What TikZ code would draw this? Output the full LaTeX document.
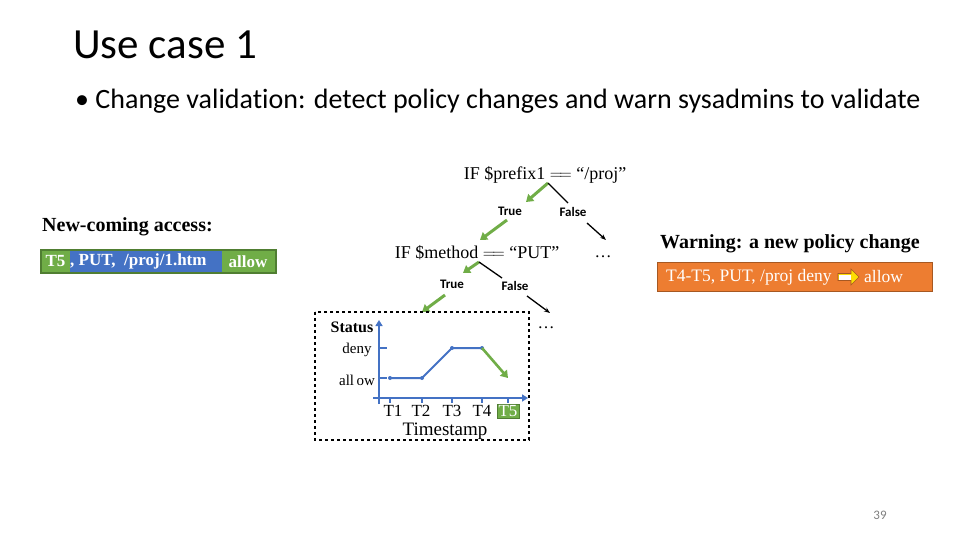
\documentclass[tikz,border=0pt]{standalone}
\usepackage{fontspec}
\setmainfont{Liberation Serif}
\newfontfamily\calfont[Ligatures=NoCommon]{Carlito}
\usetikzlibrary{arrows.meta}
\definecolor{gr}{HTML}{70AD47}
\definecolor{bl}{HTML}{4472C4}
\definecolor{org}{HTML}{ED7D31}
\definecolor{dgr}{HTML}{507E32}
\tikzset{garr/.style={gr,line width=3pt,-{Triangle[length=7pt,width=9pt]}},
barr/.style={black,line width=1.3pt,-{Stealth[length=6pt]}},
tf/.style={font=\calfont\bfseries\fontsize{13}{15}\selectfont,inner sep=0},
cond/.style={font=\fontsize{18}{21}\selectfont,inner sep=0},
ax/.style={bl,line width=2pt},
lbl/.style={font=\fontsize{17}{19}\selectfont,inner sep=0}}
\begin{document}
\begin{tikzpicture}[x=1pt,y=-1pt]
\useasboundingbox (0,0) rectangle (960,540);
\node[anchor=west,font=\calfont\fontsize{43}{48}\selectfont,inner sep=0] (title) at (73,45) {Use case 1};
\node[anchor=west,font=\calfont\fontsize{28}{32}\selectfont,inner sep=0] (bul) at (75,101) {\textbullet\ Change validation: detect policy changes and warn sysadmins to validate};
\node[cond] (c1) at (545,175) {IF \$prefix1 $=\!=$ “/proj”};
\coordinate (a1) at (548,183);
\draw[garr] (a1) -- (526,202);
\draw[black,line width=1.3pt] (a1) -- (568,203);
\node[tf] (t1) at (510,211) {True};
\node[tf] (f1) at (573,212) {False};
\coordinate (g1s) at (507,220); \coordinate (g1e) at (480,240);
\draw[garr] (g1s) -- (g1e);
\coordinate (b1s) at (587,223); \coordinate (b1e) at (606,240);
\draw[barr] (b1s) -- (b1e);
\node[lbl] (d1) at (603,257) {\dots};
\node[cond] (c2) at (477,253) {IF \$method $=\!=$ “PUT”};
\coordinate (a2) at (479,262);
\draw[garr] (a2) -- (463,273);
\draw[black,line width=1.3pt] (a2) -- (502,278);
\node[tf] (t2) at (452,284) {True};
\node[tf] (f2) at (515,286) {False};
\coordinate (g2s) at (445,295); \coordinate (g2e) at (422,312);
\draw[garr] (g2s) -- (g2e);
\coordinate (b2s) at (527,296); \coordinate (b2e) at (550,313);
\draw[barr] (b2s) -- (b2e);
\node[lbl] (d2) at (546,328) {\dots};
\draw[dashed,line width=1.3pt] (315,312) rectangle (529,440);
% axes
\coordinate (o) at (379,398);
\draw[ax,-{Triangle[length=6pt,width=7pt]}] (379,404) -- (379,320);
\draw[ax,-{Triangle[length=6pt,width=7pt]}] (373,398) -- (528,398);
\foreach \y in {348,378} \draw[ax,line width=1.5pt] (379,\y) -- (387,\y);
\foreach \x in {390,422,452,482,508} \draw[ax,line width=1.5pt] (\x,398) -- (\x,403);
\coordinate (p1) at (390,378); \coordinate (p2) at (422,378);
\coordinate (p3) at (452,348); \coordinate (p4) at (482,348);
\coordinate (p5) at (508,378);
\draw[bl,line width=2pt] (p1) -- (p2) -- (p3) -- (p4);
\foreach \p in {p1,p2,p3,p4} \fill[bl] (\p) circle (2pt);
\draw[garr,line width=2.6pt] (p4) -- (p5);
\node[font=\bfseries\fontsize{16}{18}\selectfont,inner sep=0] (st) at (352,327) {Status};
\node[font=\fontsize{15}{17}\selectfont,inner sep=0] (dn) at (357,350) {deny};
\node[font=\fontsize{15}{17}\selectfont,inner sep=0] (al) at (357,380) {all\,ow};
\foreach \x/\t in {393/T1,421/T2,452/T3,482/T4} \node[lbl] at (\x,411) {\t};
\node[lbl,fill=gr,draw=dgr,text=white,inner sep=1.5pt] (t5) at (508,411) {T5};
\node[font=\fontsize{19}{21}\selectfont,inner sep=0] (ts) at (445,431) {Timestamp};
% new coming access
\node[anchor=west,font=\bfseries\fontsize{20}{22}\selectfont,inner sep=0] (nca) at (42,227) {New-coming access:};
\fill[gr] (41,250) rectangle (70,273);
\fill[bl] (70,250) rectangle (222,273);
\fill[gr] (222,250) rectangle (276,273);
\draw[dgr,line width=1.2pt] (41,250) rectangle (276,273);
\node[font=\bfseries\fontsize{17}{20}\selectfont,text=white,inner sep=0] (x1) at (55.5,261.5) {T5};
\node[font=\bfseries\fontsize{17}{20}\selectfont,text=white,inner sep=0,anchor=west] (x2) at (70,261.5) {, PUT, \ /proj/1.htm};
\node[font=\bfseries\fontsize{17}{20}\selectfont,text=white,inner sep=0] (x3) at (248,261.5) {allow};
% warning
\node[anchor=west,font=\bfseries\fontsize{20}{22}\selectfont,inner sep=0] (wn) at (660,244) {Warning: a new policy change};
\node[draw=org!70!black,fill=org,line width=1pt,minimum width=275pt,minimum height=29pt,anchor=north west,inner sep=0] (wb) at (657,262) {};
\node[anchor=west,font=\fontsize{17.5}{20}\selectfont,text=white,inner sep=0] (wt) at (666,277) {T4-T5, PUT, /proj deny};
\draw[draw=org!70!black,fill=yellow!80!orange,line width=0.6pt] (838,273.5) -- (851,273.5) -- (851,269) -- (859,277) -- (851,285) -- (851,280.5) -- (838,280.5) -- cycle;
\fill[white] (839,274.5) rectangle (851,279.5);
\node[anchor=west,font=\fontsize{17.5}{20}\selectfont,text=white,inner sep=0] (wa) at (864,277) {allow};
\node[font=\calfont\fontsize{13}{15}\selectfont,text=gray,inner sep=0] (pg) at (880,515) {39};
\end{tikzpicture}
\end{document}
